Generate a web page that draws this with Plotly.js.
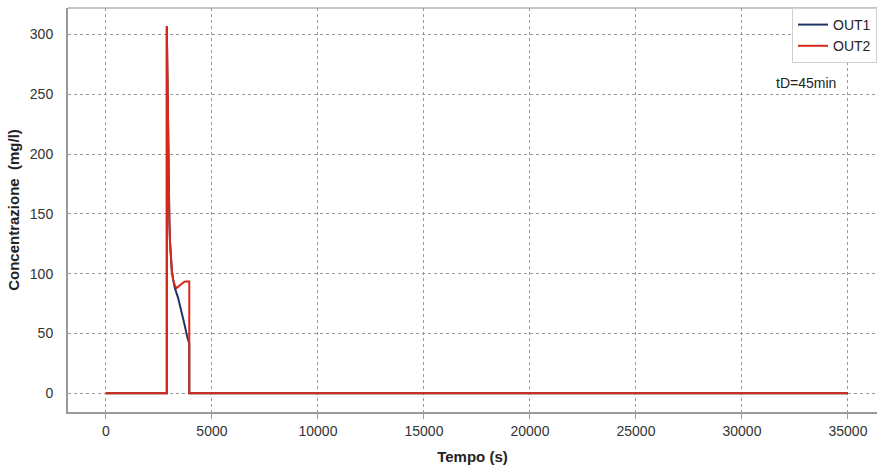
<!DOCTYPE html>
<html>
<head>
<meta charset="utf-8">
<script src="https://cdn.plot.ly/plotly-3.0.1.min.js"></script>
<style>html,body{margin:0;padding:0;background:#fff;}#chart{width:877px;height:468px;}</style>
</head>
<body>
<div id="chart"></div>
<script>
// Tempo (s)
const timeOut1 = [0, 2870, 2870, 2890, 2910, 2935, 2960, 2990, 3020, 3060, 3110, 3170, 3250, 3400, 3550, 3700, 3850, 3930, 3930, 35000];
const concOut1 = [0, 0, 307, 270, 235, 200, 170, 145, 127, 112, 102, 95, 88, 80, 70, 58, 46, 42, 0, 0];
const timeOut2 = [0, 2870, 2870, 2890, 2910, 2935, 2960, 2990, 3020, 3060, 3110, 3170, 3250, 3330, 3400, 3500, 3600, 3700, 3800, 3930, 3930, 35000];
const concOut2 = [0, 0, 307, 270, 235, 200, 170, 145, 127, 112, 102, 95, 90, 88, 89, 91, 92.5, 93.3, 93.5, 93.5, 0, 0];
const seriesNames = ['OUT1', 'OUT2'];
const xTicks = [0, 5000, 10000, 15000, 20000, 25000, 30000, 35000];
const yTicks = [0, 50, 100, 150, 200, 250, 300];

const font = 'Liberation Sans, Arial, Helvetica, sans-serif';
const traces = [
  {x: timeOut1, y: concOut1, name: seriesNames[0], type: 'scatter', mode: 'lines',
   line: {color: '#1f3566', width: 2}},
  {x: timeOut2, y: concOut2, name: seriesNames[1], type: 'scatter', mode: 'lines',
   line: {color: '#d8281a', width: 2}}
];
const layout = {
  width: 877, height: 468,
  margin: {l: 68, r: 0, t: 8, b: 56},
  paper_bgcolor: '#fff', plot_bgcolor: '#fff',
  font: {family: font, size: 14, color: '#333'},
  showlegend: true,
  legend: {x: 1, xanchor: 'right', y: 1.0, yanchor: 'top', bgcolor: '#fff',
           bordercolor: '#cfcfcf', borderwidth: 1, font: {size: 14, color: '#222'},
           itemwidth: 30, tracegroupgap: 0},
  xaxis: {
    range: [-1790, 36370], tickvals: xTicks, ticktext: xTicks.map(String),
    showgrid: true, gridcolor: '#9a9a9a', griddash: 'dot', gridwidth: 1,
    zeroline: false, showline: true, linecolor: '#9a9a9a', linewidth: 2,
    ticks: 'outside', ticklen: 5, tickcolor: '#9a9a9a', tickwidth: 1,
    tickfont: {size: 14, color: '#333'},
    title: {text: '<b>Tempo (s)</b>', font: {size: 15, color: '#222'}, standoff: 14}
  },
  yaxis: {
    range: [-15.6, 322], tickvals: yTicks, ticktext: yTicks.map(String),
    showgrid: true, gridcolor: '#9a9a9a', griddash: 'dot', gridwidth: 1,
    zeroline: false, showline: true, linecolor: '#9a9a9a', linewidth: 2,
    ticks: '', ticklabelstandoff: 10,
    tickfont: {size: 14, color: '#333'},
    title: {text: '<b>Concentrazione  (mg/l)</b>', font: {size: 15, color: '#222'}, standoff: 7}
  },
  shapes: [
    {type: 'line', xref: 'paper', yref: 'paper', x0: 0, x1: 1, y0: 1, y1: 1,
     line: {color: '#8a8a8a', width: 1}}
  ],
  annotations: [
    {text: 'tD=45min', xref: 'paper', yref: 'paper', x: 0.912, y: 0.815,
     xanchor: 'center', yanchor: 'middle', showarrow: false,
     font: {size: 14, color: '#222'}}
  ]
};
Plotly.newPlot('chart', traces, layout, {displayModeBar: false, staticPlot: true});
</script>
</body>
</html>
